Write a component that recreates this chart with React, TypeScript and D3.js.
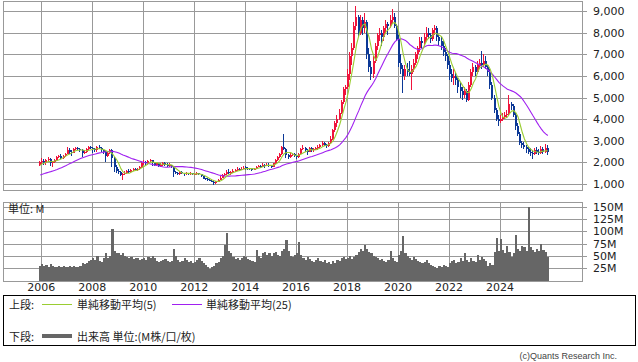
import React from 'react';
import * as d3 from 'd3';

// Monthly candles, Dec 2005 .. Nov 2025
const START = new Date(2005, 11, 1);

// closes of the 24 months before Dec 2005 (moving-average warm-up only, not drawn)
const preCloses = [
  1150, 1250, 1300, 1350, 1300, 1250, 1300, 1250, 1200, 1250, 1200, 1250,
  1300, 1300, 1350, 1350, 1400, 1400, 1450, 1550, 1650, 1800, 1900, 1950,
];

const opens = [
  1900,
  2000, 2050, 1950, 2100, 2150, 1950, 2000, 2100, 2250, 2300, 2200, 2300,
  2400, 2550, 2500, 2450, 2600, 2650, 2600, 2550, 2450, 2500, 2600, 2700,
  2650, 2600, 2550, 2700, 2650, 2550, 2500, 2300, 2450, 2550, 2200, 1800,
  1600, 1550, 1400, 1450, 1500, 1600, 1550, 1650, 1700, 1650, 1700, 1800,
  1950, 2000, 1950, 2050, 2100, 1950, 1900, 1950, 1850, 1900, 1950, 1900,
  1850, 1880, 1800, 1550, 1500, 1450, 1550, 1500, 1450, 1500, 1450, 1500,
  1440, 1450, 1500, 1450, 1350, 1260, 1250, 1200, 1150, 1100, 1050, 1100,
  1200, 1300, 1400, 1450, 1550, 1500, 1550, 1600, 1650, 1700, 1650, 1700,
  1780, 1750, 1720, 1700, 1650, 1700, 1800, 1850, 1800, 1900, 1850, 1900,
  1850, 1800, 1950, 2100, 2250, 2400, 2700, 2600, 2350, 2250, 2350, 2400,
  2300, 2250, 2400, 2600, 2650, 2550, 2500, 2650, 2550, 2600, 2650, 2700,
  2800, 2900, 2800, 2750, 2900, 3100, 3500, 3800, 4000, 4300, 4800, 5400,
  5500, 6100, 6900, 7300, 8300, 8700, 8000, 8600, 8200, 8500, 7000, 6400,
  6100, 6700, 7400, 7900, 8000, 7800, 8200, 8400, 8300, 8600, 8700, 8300,
  7700, 6600, 6300, 6000, 6300, 6200, 6100, 6300, 6600, 7000, 7300, 7600,
  7500, 7800, 8000, 7900, 7700, 8100, 8200, 7800, 7600, 7400, 7100, 6900,
  6500, 6100, 5900, 6000, 5800, 5500, 5300, 5100, 5300, 4900, 5600, 6200,
  6400, 6200, 6500, 6600, 6500, 6700, 6400, 6200, 5600, 5000, 4400, 4000,
  3900, 4000, 4100, 4200, 4250, 4700, 4600, 4200, 3700, 3300, 2900, 2800,
  2700, 2600, 2500, 2450, 2400, 2550, 2500, 2450, 2600, 2500, 2650,
];

const highs = [
  2050,
  2200, 2150, 2150, 2250, 2200, 2050, 2150, 2300, 2350, 2400, 2350, 2450,
  2700, 2650, 2550, 2650, 2720, 2700, 2680, 2600, 2550, 2650, 2780, 2750,
  2700, 2650, 2750, 2800, 2700, 2600, 2550, 2500, 2600, 2600, 2250, 1900,
  1700, 1600, 1500, 1600, 1650, 1700, 1700, 1750, 1750, 1750, 1850, 2000,
  2100, 2050, 2100, 2150, 2120, 2000, 2000, 1980, 1950, 2000, 2000, 1950,
  1950, 1900, 1850, 1600, 1550, 1580, 1600, 1520, 1550, 1530, 1550, 1520,
  1500, 1550, 1530, 1480, 1380, 1300, 1280, 1250, 1200, 1120, 1150, 1230,
  1350, 1450, 1500, 1650, 1700, 1600, 1680, 1700, 1800, 1750, 1780, 1850,
  1820, 1780, 1750, 1720, 1750, 1820, 1900, 1870, 1950, 1920, 1950, 1950,
  1880, 1980, 2150, 2300, 2450, 2750, 3310, 2650, 2400, 2450, 2450, 2450,
  2350, 2450, 2650, 2800, 2700, 2600, 2700, 2700, 2650, 2700, 2800, 2850,
  3000, 2950, 2850, 2950, 3200, 3550, 3900, 4200, 4450, 4900, 5500, 5600,
  6300, 7100, 7500, 8500, 9230, 8800, 8800, 8700, 8900, 8600, 7300, 6700,
  6900, 7500, 8000, 8200, 8100, 8300, 8600, 8500, 8800, 9100, 8900, 8400,
  7900, 7000, 6500, 6500, 6600, 6700, 6500, 6800, 7100, 7400, 7800, 7800,
  8000, 8250, 8200, 8000, 8200, 8350, 8300, 7900, 7800, 7600, 7300, 7000,
  6700, 6300, 6300, 6200, 5900, 5700, 5500, 5500, 5400, 5700, 6300, 6600,
  6500, 6700, 6800, 7150, 7000, 6900, 6500, 6300, 5700, 5100, 4500, 4200,
  4200, 4300, 4350, 4400, 5100, 4800, 4700, 4300, 3800, 3400, 3000, 2950,
  2800, 2700, 2650, 2550, 2650, 2700, 2600, 2750, 2700, 2850, 2800,
];

const lows = [
  1850,
  1900, 1900, 1880, 2050, 1850, 1800, 1950, 2050, 2200, 2150, 2150, 2250,
  2380, 2400, 2300, 2420, 2550, 2550, 2500, 2250, 2400, 2450, 2550, 2600,
  2450, 2500, 2500, 2600, 2500, 2400, 2000, 2250, 2400, 1800, 1550, 1500,
  1450, 1350, 1180, 1400, 1450, 1500, 1500, 1600, 1600, 1600, 1650, 1750,
  1900, 1900, 1900, 2000, 1850, 1850, 1850, 1800, 1800, 1850, 1850, 1800,
  1800, 1750, 1340, 1450, 1400, 1420, 1450, 1380, 1420, 1400, 1400, 1400,
  1400, 1430, 1420, 1330, 1230, 1200, 1150, 1120, 1080, 950, 1020, 1080,
  1180, 1280, 1380, 1420, 1450, 1400, 1520, 1550, 1620, 1600, 1630, 1680,
  1650, 1650, 1650, 1600, 1630, 1680, 1780, 1750, 1780, 1750, 1830, 1800,
  1750, 1780, 1920, 2050, 2200, 2350, 2550, 2200, 2150, 2200, 2300, 2250,
  2150, 2200, 2380, 2550, 2500, 2350, 2480, 2500, 2500, 2550, 2550, 2650,
  2750, 2750, 2650, 2700, 2850, 3050, 3400, 3650, 3950, 4250, 4700, 5100,
  5400, 5800, 6500, 7200, 8100, 7800, 7900, 7900, 8000, 6800, 6200, 5800,
  5900, 6600, 7200, 7600, 7400, 7600, 8000, 7900, 8200, 8400, 8200, 7600,
  6400, 6100, 5200, 5800, 6000, 6000, 5350, 6200, 6500, 6800, 7100, 7300,
  7400, 7600, 7700, 7500, 7600, 7900, 7600, 7400, 7200, 6900, 6700, 6300,
  5800, 5700, 5600, 5600, 5200, 5000, 4900, 5000, 4800, 4850, 5500, 6000,
  6000, 6100, 6300, 6300, 6400, 6300, 6000, 5400, 4900, 4300, 3900, 3700,
  3800, 3900, 4000, 4050, 4200, 4400, 4100, 3500, 3200, 2800, 2650, 2600,
  2450, 2400, 2300, 2150, 2350, 2400, 2350, 2400, 2400, 2450, 2350,
];

const closes = [
  2000,
  2050, 1950, 2100, 2150, 1950, 2000, 2100, 2250, 2300, 2200, 2300, 2400,
  2550, 2500, 2450, 2600, 2650, 2600, 2550, 2450, 2500, 2600, 2700, 2650,
  2600, 2550, 2700, 2650, 2550, 2500, 2300, 2450, 2550, 2200, 1800, 1600,
  1550, 1400, 1450, 1500, 1600, 1550, 1650, 1700, 1650, 1700, 1800, 1950,
  2000, 1950, 2050, 2100, 1950, 1900, 1950, 1850, 1900, 1950, 1900, 1850,
  1880, 1800, 1550, 1500, 1450, 1550, 1500, 1450, 1500, 1450, 1500, 1450,
  1450, 1500, 1450, 1350, 1250, 1250, 1200, 1150, 1100, 1050, 1100, 1200,
  1300, 1400, 1450, 1550, 1500, 1550, 1600, 1650, 1700, 1650, 1700, 1750,
  1750, 1700, 1700, 1650, 1700, 1800, 1850, 1800, 1900, 1850, 1900, 1850,
  1800, 1950, 2100, 2250, 2400, 2700, 2600, 2350, 2250, 2350, 2400, 2300,
  2250, 2400, 2600, 2650, 2550, 2500, 2650, 2550, 2600, 2650, 2700, 2800,
  2900, 2800, 2750, 2900, 3100, 3500, 3800, 4000, 4300, 4800, 5400, 5500,
  6100, 6900, 7300, 8300, 8700, 8000, 8600, 8200, 8500, 7000, 6400, 6100,
  6700, 7400, 7900, 8000, 7800, 8200, 8400, 8300, 8600, 8700, 8300, 7700,
  6600, 6300, 6000, 6300, 6200, 6100, 6300, 6600, 7000, 7300, 7600, 7500,
  7800, 8000, 7900, 7700, 8100, 8200, 7800, 7600, 7400, 7100, 6900, 6500,
  6100, 5900, 6000, 5800, 5500, 5300, 5100, 5300, 4900, 5600, 6200, 6400,
  6200, 6500, 6600, 6500, 6700, 6400, 6200, 5600, 5000, 4400, 4000, 3900,
  4000, 4100, 4200, 4250, 4700, 4600, 4200, 3700, 3300, 2900, 2800, 2700,
  2600, 2500, 2450, 2400, 2550, 2500, 2450, 2600, 2500, 2650, 2500,
];

// monthly volume, millions
const volumes = [
  30,
  34, 30, 32, 28, 33, 30, 27, 28, 30, 27, 29, 27,
  28, 30, 27, 29, 27, 28, 30, 36, 33, 35, 40, 42,
  45, 42, 50, 40, 38, 45, 55, 45, 50, 105, 60, 55,
  55, 52, 55, 50, 48, 46, 47, 44, 45, 46, 42, 44,
  45, 42, 47, 45, 50, 46, 40, 38, 40, 42, 44, 40,
  38, 40, 64, 50, 42, 38, 40, 46, 42, 38, 40, 36,
  38, 42, 45, 40, 36, 32, 28, 24, 27, 30, 36, 38,
  45, 50, 72, 96, 60, 55, 48, 44, 46, 42, 45, 50,
  48, 44, 42, 40, 38, 62, 50, 45, 55, 58, 52, 55,
  50, 55, 58, 52, 50, 60, 65, 83, 60, 50, 48, 52,
  55, 78, 52, 45, 42, 48, 44, 40, 38, 42, 45, 40,
  38, 42, 35, 38, 34, 40, 36, 42, 40, 45, 47, 44,
  46, 50, 44, 48, 52, 58, 65, 60, 72, 65, 58, 55,
  50, 48, 45, 42, 44, 40, 38, 42, 60, 45, 40, 38,
  52, 60, 91, 55, 50, 45, 42, 48, 44, 40, 38, 36,
  38, 42, 35, 32, 30, 28, 25, 30, 28, 32, 30, 28,
  35, 40, 42, 36, 38, 45, 40, 56, 42, 38, 45, 40,
  38, 52, 42, 48, 44, 40, 30, 35, 32, 58, 87, 60,
  85, 62, 55, 70, 58, 48, 55, 92, 65, 60, 70, 68,
  60, 149, 68, 62, 58, 65, 60, 75, 62, 58, 48,
];

const priceTicks = [1000, 2000, 3000, 4000, 5000, 6000, 7000, 8000, 9000];
const volumeTicks = [25, 50, 75, 100, 125, 150];
const yearTicks = [2006, 2008, 2010, 2012, 2014, 2016, 2018, 2020, 2022, 2024];

const UP = '#f0143c';
const DOWN = '#0b3896';
const MA5C = '#9acd32';
const MA25C = '#a020f0';
const GRID = '#999999';
const NUMFONT = '"DejaVu Sans", Verdana, sans-serif';
const JPFONT = '"Noto Sans CJK JP", sans-serif';

export default function App() {
  const L = 3, R = 582;
  const T1 = 1, B1 = 190;
  const T2 = 202, B2 = 280.5;

  const x = d3.scaleTime().domain([new Date(2006, 0, 1), new Date(2024, 0, 1)]).range([41.3, 500]);
  const yP = d3.scaleLinear().domain([1000, 9000]).range([184, 11]);
  const yV = d3.scaleLinear().domain([0, 150]).range([B2, 206.7]);

  const months = closes.map((_, i) => d3.timeMonth.offset(START, i));
  const x0 = (i: number) => x(months[i]);
  const x1 = (i: number) => x(d3.timeMonth.offset(months[i], 1));
  const cx = (i: number) => (x0(i) + x1(i)) / 2;

  const all = preCloses.concat(closes);
  const P = preCloses.length;
  const ma = (n: number) =>
    closes.map((_, i) => d3.mean(all.slice(i + P - n + 1, i + P + 1)) as number);
  const ma5 = ma(5);
  const ma25 = ma(25);
  const line = d3
    .line<number>()
    .x((_, i) => cx(i))
    .y((d) => yP(d));

  const px = (v: number) => Math.round(v) + 0.5;

  return (
    <svg
      width={638}
      height={362}
      style={{ position: 'absolute', left: 0, top: 0, background: '#fff' }}
    >
      <rect x={0} y={0} width={638} height={362} fill="#fff" />
      {/* ---------- top panel grid ---------- */}
      <g stroke={GRID} strokeWidth={1} fill="none" shapeRendering="crispEdges">
        {priceTicks.map((t) => (
          <line key={'hp' + t} x1={L} x2={R + 5} y1={px(yP(t))} y2={px(yP(t))} />
        ))}
        {yearTicks.map((y) => (
          <line key={'vp' + y} x1={px(x(new Date(y, 0, 1)))} x2={px(x(new Date(y, 0, 1)))} y1={T1} y2={B1} />
        ))}
        <rect x={L + 0.5} y={T1 + 0.5} width={R - L} height={B1 - T1} />
      </g>
      {/* candles */}
      <g shapeRendering="crispEdges">
        {closes.map((c, i) => {
          const o = opens[i];
          const col = c >= o ? UP : DOWN;
          const bx = Math.round(x0(i));
          const top = yP(Math.max(o, c));
          const bot = yP(Math.min(o, c));
          return (
            <g key={'c' + i}>
              <rect x={bx} y={yP(highs[i])} width={1} height={Math.max(1, yP(lows[i]) - yP(highs[i]))} fill={col} />
              <rect x={bx} y={top} width={2} height={Math.max(1, bot - top)} fill={col} />
            </g>
          );
        })}
      </g>
      <path d={line(ma25) || ''} fill="none" stroke={MA25C} strokeWidth={1.1} />
      <path d={line(ma5) || ''} fill="none" stroke={MA5C} strokeWidth={1.1} />
      {/* price labels */}
      <g fontFamily={NUMFONT} fontSize={11} fill="#222">
        {priceTicks.map((t) => (
          <text key={'lp' + t} x={593} y={yP(t) + 4}>
            {d3.format(',')(t)}
          </text>
        ))}
      </g>

      {/* ---------- volume panel ---------- */}
      <g stroke={GRID} strokeWidth={1} fill="none" shapeRendering="crispEdges">
        {volumeTicks.map((t) => (
          <line key={'hv' + t} x1={L} x2={R + 5} y1={px(yV(t))} y2={px(yV(t))} />
        ))}
        {yearTicks.map((y) => (
          <line key={'vv' + y} x1={px(x(new Date(y, 0, 1)))} x2={px(x(new Date(y, 0, 1)))} y1={T2} y2={B2} />
        ))}
      </g>
      <g fill="#666666" shapeRendering="crispEdges">
        {volumes.map((v, i) => (
          <rect key={'v' + i} x={x0(i)} y={yV(v)} width={x1(i) - x0(i)} height={yV(0) - yV(v)} />
        ))}
      </g>
      <rect
        x={L + 0.5}
        y={T2 + 0.5}
        width={R - L}
        height={B2 - T2}
        fill="none"
        stroke={GRID}
        shapeRendering="crispEdges"
      />
      <text x={8} y={213} fontFamily={JPFONT} fontSize={11} fill="#222">
        単位: M
      </text>
      <g fontFamily={NUMFONT} fontSize={11} fill="#222">
        {volumeTicks.map((t) => (
          <text key={'lv' + t} x={593} y={yV(t) + 4}>
            {t + 'M'}
          </text>
        ))}
      </g>
      {/* year labels */}
      <g fontFamily={NUMFONT} fontSize={11} fill="#222" textAnchor="middle">
        {yearTicks.map((y) => (
          <text key={'ly' + y} x={x(new Date(y, 0, 1))} y={291}>
            {y}
          </text>
        ))}
      </g>

      {/* ---------- legend ---------- */}
      <rect x={3.5} y={295.5} width={632} height={50} fill="none" stroke="#000" shapeRendering="crispEdges" />
      <g fontFamily={JPFONT} fontSize={11} fill="#222" dominantBaseline="central">
        <text x={9} y={304}>上段:</text>
        <line x1={42} x2={72} y1={304.5} y2={304.5} stroke={MA5C} strokeWidth={1} />
        <text x={77} y={304}>単純移動平均(5)</text>
        <line x1={172} x2={202} y1={304.5} y2={304.5} stroke={MA25C} strokeWidth={1} />
        <text x={206} y={304}>単純移動平均(25)</text>
        <text x={9} y={336}>下段:</text>
        <line x1={42} x2={72} y1={336} y2={336} stroke="#666666" strokeWidth={4} />
        <text x={77} y={336}>出来高 単位:(M株/口/枚)</text>
      </g>
      <text
        x={617}
        y={359}
        textAnchor="end"
        fontFamily='"Liberation Sans", Arial, sans-serif'
        fontSize={9}
        fill="#444"
      >
        (c)Quants Research Inc.
      </text>
    </svg>
  );
}
